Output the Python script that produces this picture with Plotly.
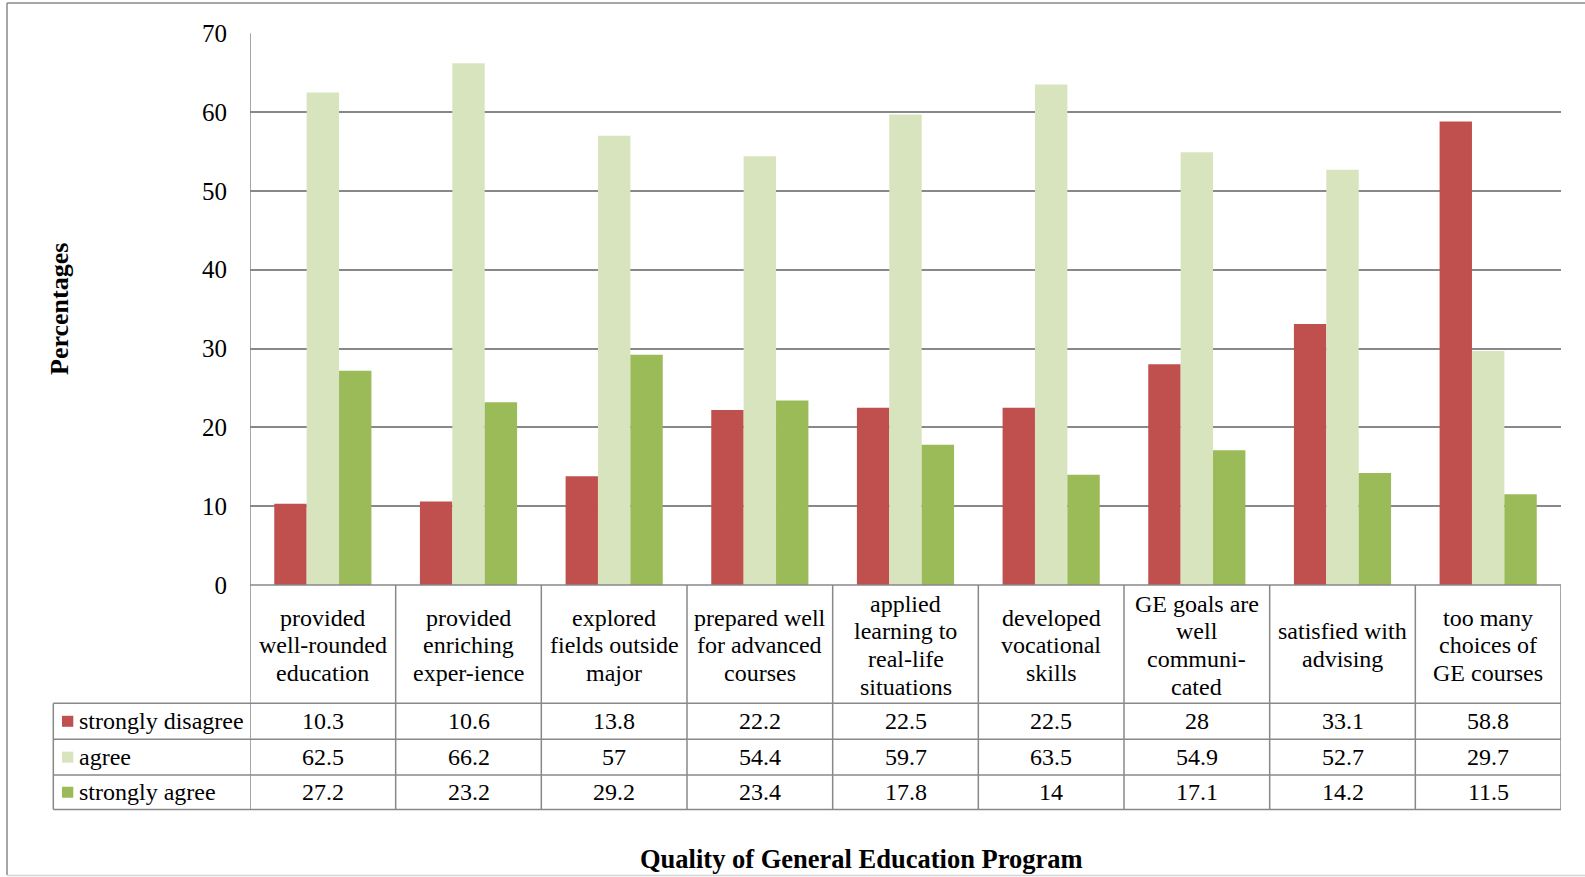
import plotly.graph_objects as go

# Survey items (header cells of the data table), one list entry per printed line
categories = [
    ["provided", "well-rounded", "education"],
    ["provided", "enriching", "exper-ience"],
    ["explored", "fields outside", "major"],
    ["prepared well", "for advanced", "courses"],
    ["applied", "learning to", "real-life", "situations"],
    ["developed", "vocational", "skills"],
    ["GE goals are", "well", "communi-", "cated"],
    ["satisfied with", "advising"],
    ["too many", "choices of", "GE courses"],
]

series_names = ["strongly disagree", "agree", "strongly agree"]
strongly_disagree = [10.3, 10.6, 13.8, 22.2, 22.5, 22.5, 28, 33.1, 58.8]
agree = [62.5, 66.2, 57, 54.4, 59.7, 63.5, 54.9, 52.7, 29.7]
strongly_agree = [27.2, 23.2, 29.2, 23.4, 17.8, 14, 17.1, 14.2, 11.5]
series_values = [strongly_disagree, agree, strongly_agree]
series_colors = ["#C0504D", "#D7E4BD", "#9BBB59"]

y_ticks = [0, 10, 20, 30, 40, 50, 60, 70]

W, H = 1585, 877
FONT = "Liberation Serif"
LINE = "#888888"
TABLE_SIZE = 24
LINE_STEP = 27.6


def px(x):
    return x / W


def py(y):
    return 1 - y / H


# Pixel layout of the plot area and the data table below it
plot_left, plot_right = 250, 1561
plot_top, plot_bottom = 33.3, 585
row_edges = [585, 703.3, 739.3, 775, 809.5]
legend_left = 53.3

idx = list(range(len(categories)))

fig = go.Figure()
for name, vals, col in zip(series_names, series_values, series_colors):
    fig.add_trace(go.Bar(
        x=idx, y=vals, name=name,
        marker=dict(color=col, line=dict(width=0)),
        hoverinfo="y+name",
    ))

shapes = []
annotations = []

# Chart frame
shapes.append(dict(type="line", xref="paper", yref="paper",
                   x0=px(7), x1=px(7), y0=py(3), y1=py(875),
                   line=dict(color=LINE, width=1.5)))
shapes.append(dict(type="line", xref="paper", yref="paper",
                   x0=px(7), x1=1, y0=py(3), y1=py(3),
                   line=dict(color=LINE, width=1.5)))
shapes.append(dict(type="line", xref="paper", yref="paper",
                   x0=px(7), x1=1, y0=py(875.5), y1=py(875.5),
                   line=dict(color="#d4d4d4", width=1.5)))

# Value axis line, running down through the table
shapes.append(dict(type="line", xref="x", yref="paper",
                   x0=-0.5, x1=-0.5, y0=py(plot_top), y1=py(row_edges[-1]),
                   line=dict(color=LINE, width=1.5)))
# Column separators of the table
for i in idx:
    shapes.append(dict(type="line", xref="x", yref="paper",
                       x0=i + 0.5, x1=i + 0.5,
                       y0=py(row_edges[0]), y1=py(row_edges[-1]),
                       line=dict(color=LINE, width=1.5)))
# Category axis line
shapes.append(dict(type="line", xref="x", yref="paper",
                   x0=-0.5, x1=len(categories) - 0.5,
                   y0=py(row_edges[0]), y1=py(row_edges[0]),
                   line=dict(color=LINE, width=1.5)))
# Row lines of the table
for yy in row_edges[1:]:
    shapes.append(dict(type="line", xref="paper", yref="paper",
                       x0=px(legend_left), x1=px(plot_right),
                       y0=py(yy), y1=py(yy),
                       line=dict(color=LINE, width=1.5)))
# Left edge of the legend column
shapes.append(dict(type="line", xref="paper", yref="paper",
                   x0=px(legend_left), x1=px(legend_left),
                   y0=py(row_edges[1]), y1=py(row_edges[-1]),
                   line=dict(color=LINE, width=1.5)))

# Header cells: lines stacked around the cell's vertical centre
header_mid = (row_edges[0] + row_edges[1]) / 2 + 1
for i, lines in enumerate(categories):
    n = len(lines)
    for k, text in enumerate(lines):
        yy = header_mid + (k - (n - 1) / 2) * LINE_STEP
        annotations.append(dict(
            x=i, xref="x", y=py(yy), yref="paper",
            text=text, showarrow=False, xanchor="center", yanchor="middle",
            borderpad=0,
            font=dict(family=FONT, size=TABLE_SIZE, color="black"),
        ))

# Data rows: legend key, series name, values
for r, (name, vals, col) in enumerate(zip(series_names, series_values, series_colors)):
    top, bot = row_edges[r + 1], row_edges[r + 2]
    mid = (top + bot) / 2
    shapes.append(dict(type="rect", xref="paper", yref="paper",
                       x0=px(62), x1=px(73.3), y0=py(mid - 5.5), y1=py(mid + 5.5),
                       fillcolor=col, line=dict(width=0)))
    annotations.append(dict(
        x=px(77.5), xref="paper", y=py(mid), yref="paper",
        text=name, showarrow=False, xanchor="left", yanchor="middle",
        borderpad=0,
        font=dict(family=FONT, size=TABLE_SIZE, color="black"),
    ))
    for i, v in enumerate(vals):
        annotations.append(dict(
            x=i, xref="x", y=py(mid), yref="paper",
            text=f"{v:g}", showarrow=False, xanchor="center", yanchor="middle",
            borderpad=0,
            font=dict(family=FONT, size=TABLE_SIZE, color="black"),
        ))

# Axis titles
annotations.append(dict(
    x=px(59), xref="paper", y=py(309), yref="paper",
    text="<b>Percentages</b>", textangle=-90, showarrow=False,
    xanchor="center", yanchor="middle",
    font=dict(family=FONT, size=26, color="black"),
))
annotations.append(dict(
    x=px(861.5), xref="paper", y=py(859), yref="paper",
    text="<b>Quality of General Education Program</b>", showarrow=False,
    xanchor="center", yanchor="middle",
    font=dict(family=FONT, size=26.5, color="black"),
))

fig.update_layout(
    width=W, height=H,
    margin=dict(l=0, r=0, t=0, b=0, pad=0, autoexpand=False),
    paper_bgcolor="white", plot_bgcolor="white",
    barmode="group", bargap=0.333, bargroupgap=0,
    showlegend=False,
    shapes=shapes, annotations=annotations,
    xaxis=dict(
        domain=[px(plot_left), px(plot_right)],
        range=[-0.5, len(categories) - 0.5],
        showticklabels=False, showgrid=False, zeroline=False,
        showline=False, ticks="", fixedrange=True, automargin=False,
    ),
    yaxis=dict(
        domain=[py(plot_bottom), py(plot_top)],
        range=[0, 70],
        tickvals=y_ticks,
        ticktext=[str(t) for t in y_ticks],
        tickfont=dict(family=FONT, size=25, color="black"),
        ticks="", ticklabelstandoff=22,
        showgrid=True, gridcolor=LINE, gridwidth=1.5,
        zeroline=False, showline=False, fixedrange=True, automargin=False,
    ),
    font=dict(family=FONT),
)

fig.write_html("out.html")
